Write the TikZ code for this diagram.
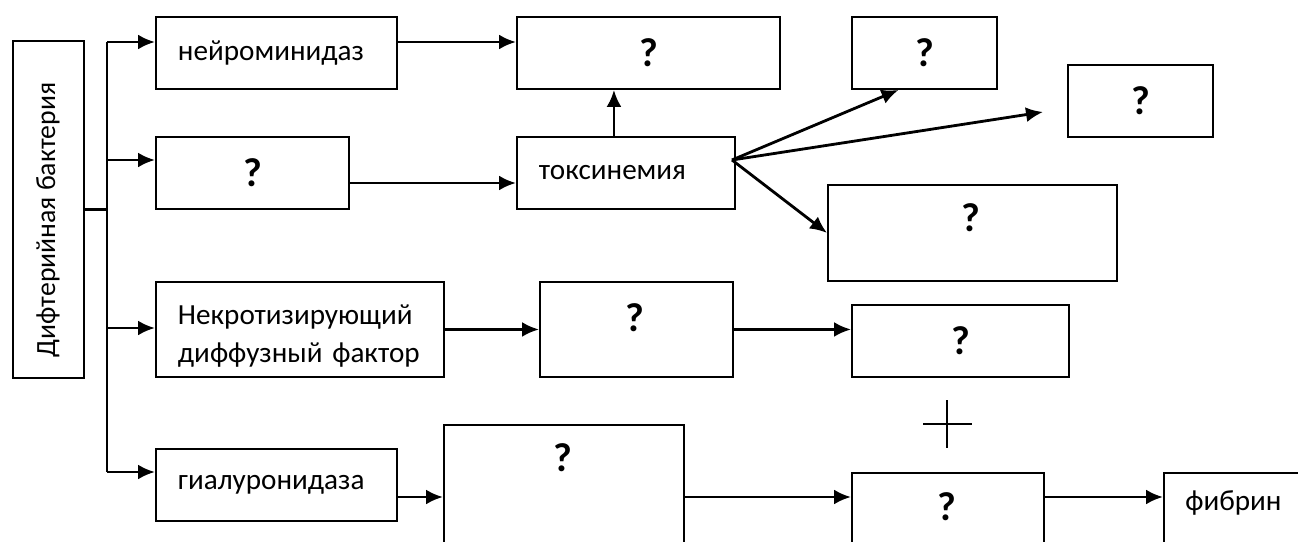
\documentclass[tikz,border=0pt]{standalone}
\usepackage{fontspec}
\setmainfont{Carlito}
\usetikzlibrary{arrows.meta}
\tikzset{
  box/.style 2 args={draw, line width=1.1pt, anchor=north west, inner sep=0pt,
    minimum width=#1*0.02cm, minimum height=#2*0.02cm},
  txtbox/.style={align=left, inner xsep=0.44cm, font=\fontsize{16.6}{21.5}\selectfont},
  qmark/.style={font=\fontsize{23}{26}\selectfont\bfseries},
  link/.style={line width=1.6pt},
}
\begin{document}
\begin{tikzpicture}[x=0.02cm, y=-0.02cm, >={Latex[length=0.34cm,width=0.3cm]}]
  \useasboundingbox (0,0) rectangle (1298,541);
  \node [box={71}{337}] (bact) at (12,40) {};
  \node [rotate=90, font=\fontsize{15.8}{20}\selectfont] (bacttxt) at (48,220) {Дифтерийная бактерия};
  \node [box={241}{72}, txtbox, text width=197*0.02cm] (neur) at (155,16) {нейроминидаз\\[-4pt]};
  \node [box={193}{72}, qmark] (q2) at (155,136) {?};
  \node [box={288}{95}, txtbox, text width=244*0.02cm] (nekro) at (155,281) {\rule{0pt}{19pt}Некротизирующий\\диффузный фактор};
  \node [box={241}{72}, txtbox, text width=197*0.02cm] (hyal) at (155,448) {гиалуронидаза\\[-4pt]};
  \node [box={263}{72}, qmark] (topq) at (516,16) {?};
  \node [box={216}{72}, txtbox, text width=174*0.02cm] (tox) at (516,136) {токсинемия\\[-4pt]};
  \node [box={145}{72}, qmark] (qa) at (851,16) {?};
  \node [box={145}{72}, qmark] (qb) at (1067,64) {?};
  \node [box={289}{96}] (qc) at (827,184) {};
  \node [qmark] (qctxt) at (971,218) {?};
  \node [box={193}{95}] (qd) at (539,281) {};
  \node [qmark] (qdtxt) at (635,318) {?};
  \node [box={217}{72}, qmark] (qe) at (851,304) {?};
  \node [box={240}{140}] (qf) at (443,424) {};
  \node [qmark] (qftxt) at (563,458) {?};
  \node [box={192}{92}] (qg) at (851,472) {};
  \node [qmark] (qgtxt) at (947,507) {?};
  \node [box={170}{92}] (fib) at (1163,472) {};
  \node [anchor=west, inner sep=0pt, font=\fontsize{16.6}{20}\selectfont] (fibtxt) at (1185,503) {фибрин};
  \coordinate (t1) at (107,42);
  \coordinate (t2) at (107,160);
  \coordinate (t3) at (107,328);
  \coordinate (t4) at (107,472);
  \coordinate (y2) at (0,183);
  \coordinate (y4) at (0,497);
  \coordinate (tox0) at (732,160);
  \coordinate (bend) at (1043,112);
  \draw [link] (bact.east) -- (bact.east -| t1);
  \draw [link] (t1) -- (t4);
  \draw [link,->] (t1) -- (t1 -| neur.west);
  \draw [link,->] (t2) -- (t2 -| q2.west);
  \draw [link,->] (t3) -- (t3 -| nekro.west);
  \draw [link,->] (t4) -- (t4 -| hyal.west);
  \draw [link,->] (t1 -| neur.east) -- (t1 -| topq.west);
  \draw [link,->] (y2 -| q2.east) -- (y2 -| tox.west);
  \draw [link,->] ([xshift=-0.24cm]tox.north) -- ([xshift=-0.24cm]tox.north |- topq.south);
  \draw [link,->] (tox0) -- ([xshift=-0.52cm]qa.south);
  \draw [link,->] (tox0) -- (bend);
  \draw [link,->] (tox0) -- (qc.west);
  \draw [link,->] (nekro.east) -- (qd.west);
  \draw [link,->] (qd.east) -- (qd.east -| qe.west);
  \draw [link,->] (y4 -| hyal.east) -- (y4 -| qf.west);
  \draw [link,->] (y4 -| qf.east) -- (y4 -| qg.west);
  \draw [link,->] (y4 -| qg.east) -- (y4 -| fib.west);
  \draw [line width=0.6pt] (923,424) -- (972,424);
  \draw [line width=0.6pt] (947,400) -- (947,448);
\end{tikzpicture}
\end{document}
